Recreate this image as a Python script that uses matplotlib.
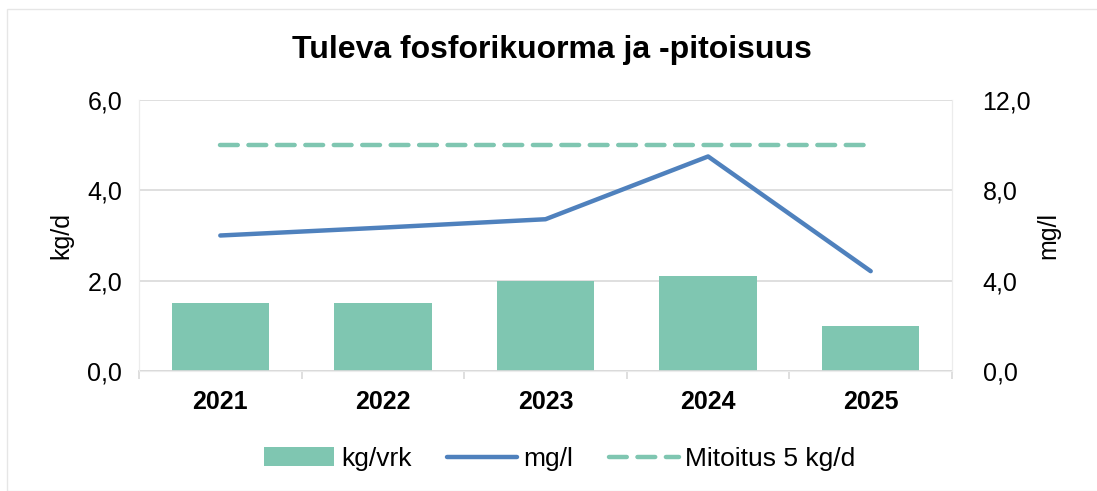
import matplotlib.pyplot as plt
import numpy as np
from matplotlib.patches import Patch, Rectangle
from matplotlib.lines import Line2D

plt.rcParams["font.family"] = ["Liberation Sans", "DejaVu Sans"]

years = ["2021", "2022", "2023", "2024", "2025"]
kg_vrk = [1.5, 1.5, 2.0, 2.1, 1.0]
mg_l = [6.0, 6.35, 6.72, 9.5, 4.42]
mitoitus = [5.0, 5.0, 5.0, 5.0, 5.0]

BAR_COLOR = "#7fc6b1"
LINE_COLOR = "#4f81bd"
GRID_COLOR = "#d9d9d9"

W, H = 1097, 491
fig = plt.figure(figsize=(W / 100, H / 100), dpi=100)
ax = fig.add_axes([139 / W, 1 - 371 / H, (952 - 139) / W, (371 - 100) / H])
ax2 = ax.twinx()

x = np.arange(len(years))
ax.bar(x, kg_vrk, width=0.6, color=BAR_COLOR, zorder=2)
ax.plot(x, mitoitus, color=BAR_COLOR, linewidth=3.2, linestyle=(0, (4, 2.4)),
        dash_capstyle="round", zorder=3)
ax2.plot(x, mg_l, color=LINE_COLOR, linewidth=3.2, solid_capstyle="round", zorder=3)

ax.set_xlim(-0.5, len(years) - 0.5)
ax.set_ylim(0, 6)
ax2.set_ylim(0, 12)
ax.set_yticks([0, 2, 4, 6])
ax.set_yticklabels(["0,0", "2,0", "4,0", "6,0"])
ax2.set_yticks([0, 4, 8, 12])
ax2.set_yticklabels(["0,0", "4,0", "8,0", "12,0"])

ax.set_xticks(x)
ax.set_xticklabels(years, fontsize=18, fontweight="bold")
ax.set_xticks(np.arange(-0.5, len(years)), minor=True)
ax.tick_params(axis="x", which="major", length=0, pad=14)
ax.tick_params(axis="x", which="minor", length=6, color=GRID_COLOR, width=1.2)
ax.tick_params(axis="y", length=0, labelsize=18, pad=12)
ax2.tick_params(axis="y", length=0, labelsize=18, pad=22)

ax.grid(axis="y", color=GRID_COLOR, linewidth=1.2, zorder=0)
ax.set_axisbelow(True)
for a in (ax, ax2):
    a.spines["top"].set_visible(False)
    for side in ("left", "right", "bottom"):
        a.spines[side].set_color("#ececec")
ax.spines["bottom"].set_color(GRID_COLOR)
ax.spines["bottom"].set_linewidth(1.2)

ax.set_ylabel("kg/d", fontsize=18, labelpad=10)
ax2.set_ylabel("mg/l", fontsize=18, labelpad=4)

fig.text(552 / W, 1 - 50 / H, "Tuleva fosforikuorma ja -pitoisuus", ha="center",
         va="center", fontsize=23, fontweight="bold")

handles = [
    Patch(facecolor=BAR_COLOR, edgecolor="none"),
    Line2D([], [], color=LINE_COLOR, linewidth=3.2, solid_capstyle="round"),
    Line2D([], [], color=BAR_COLOR, linewidth=3.2, linestyle=(0, (4, 2.4)),
           dash_capstyle="round"),
]
fig.legend(handles, ["kg/vrk", "mg/l", "Mitoitus 5 kg/d"], loc="center",
           bbox_to_anchor=(560 / W, 1 - 459 / H), ncol=3, frameon=False,
           fontsize=19, handlelength=2.65, handleheight=0.75, columnspacing=1.35,
           handletextpad=0.25)

fig.patches.append(Rectangle((7 / W, 0), 1.0, 1 - 9 / H, transform=fig.transFigure,
                             fill=False, edgecolor="#e6e6e6", linewidth=1))

fig.savefig("out.png", dpi=100)
